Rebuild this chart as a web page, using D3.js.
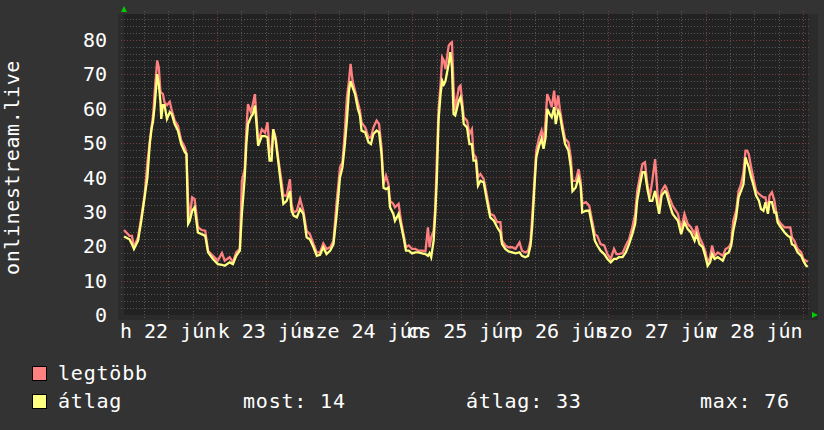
<html>
<head>
<script src="https://d3js.org/d3.v7.min.js"></script>
<style>
    body { margin: 0; background: #333; }
    text { font-family: "DejaVu Sans Mono", monospace; fill: #fff; font-size: 20px; }
</style>
</head>
<body>
<svg id="chartArea" width="824" height="430"></svg>
<script>
// hours since 22 jún 00:00
const hours = [1.15, 2.5, 3.1, 3.6, 4.6, 5.4, 6.2, 6.9, 7.5, 7.9, 8.3, 8.7, 9.3, 9.7, 10.1, 10.3, 10.7, 11.1, 11.7, 12.4,
    12.9, 13.6, 14.4, 15.2, 16.1, 16.5, 16.9, 17.3, 17.9, 18.5, 19.3, 20.2, 21.1, 21.8, 23.0, 24.2, 25.2, 25.9, 27.1, 27.9,
    28.7, 29.6, 30.1, 30.8, 31.2, 31.6, 32.3, 32.8, 33.3, 33.7, 34.1, 35.0, 35.8, 36.4, 36.9, 37.4, 37.8, 38.4, 39.1, 39.7,
    40.3, 41.1, 41.9, 42.3, 42.8, 43.6, 44.4, 45.2, 46.0, 46.8, 47.7, 48.5, 49.3, 50.1, 50.9, 51.8, 52.6, 53.4, 54.2, 54.8,
    55.4, 55.9, 56.4, 56.8, 57.3, 57.9, 58.6, 59.1, 59.5, 60.4, 61.2, 61.8, 62.4, 63.2, 63.8, 64.4, 64.9, 65.5, 66.1, 66.5,
    67.3, 67.7, 68.6, 69.3, 69.9, 70.4, 71.1, 71.9, 72.7, 73.5, 74.4, 75.2, 75.8, 76.2, 76.6, 77.2, 77.6, 78.0, 78.4, 78.9,
    79.3, 79.7, 80.1, 80.5, 80.9, 81.3, 81.7, 82.1, 82.5, 83.0, 83.4, 83.8, 84.2, 84.6, 85.4, 86.0, 86.6, 87.0, 87.6, 88.1,
    88.7, 89.5, 90.3, 91.1, 92.0, 92.8, 93.6, 94.0, 94.8, 95.6, 96.5, 97.3, 98.3, 98.9, 99.7, 100.4, 101.0, 101.4, 101.9, 102.4,
    103.1, 103.7, 104.2, 104.7, 105.1, 105.7, 106.2, 106.8, 107.2, 107.8, 108.2, 108.8, 109.5, 110.3, 110.9, 111.3, 112.1, 112.8, 113.3, 113.7,
    114.6, 115.4, 116.2, 116.8, 117.4, 118.2, 119.1, 119.9, 120.7, 121.5, 122.1, 122.7, 123.6, 124.4, 125.2, 126.0, 126.7, 127.2, 127.9, 128.5,
    129.1, 129.7, 130.3, 130.9, 131.6, 132.2, 132.6, 133.2, 134.0, 134.3, 135.1, 135.9, 137.2, 138.0, 138.8, 139.6, 140.4, 141.3, 141.8, 142.5,
    143.3, 144.0, 144.5, 145.1, 145.6, 146.2, 147.0, 147.6, 148.2, 148.9, 149.7, 150.3, 150.8, 151.5, 152.1, 152.7, 153.3, 153.8, 154.2, 154.6,
    155.2, 155.7, 156.4, 157.1, 157.6, 158.2, 158.7, 159.3, 159.7, 160.3, 160.9, 161.3, 161.7, 162.5, 163.4, 164.2, 164.8, 165.2, 165.8, 166.6,
    167.5, 168.0, 168.7, 169.1];

const maxVals = [24.7, 23, 23, 19.7, 22.6, 28.4, 34.7, 44.4, 50.7, 54.5, 58, 65, 74, 72, 65, 64.7, 64.2, 61.8, 61, 62,
    59.4, 56.5, 55, 50.7, 48.7, 46.8, 33.2, 28.4, 34.2, 33.7, 25.5, 24.7, 24.5, 18.7, 17.2, 15.8, 18, 15.8, 16.8, 15.3,
    18.2, 19.2, 39, 42.4, 53.6, 61.3, 59, 61.3, 64.2, 57.5, 50.2, 54, 53, 56, 47.8, 47.3, 54, 51.6, 44.9, 40,
    34.7, 34.7, 39.5, 32.3, 29.8, 30.3, 33.7, 30.3, 24.5, 23.5, 20.6, 18.2, 18.2, 20.8, 19.2, 19.7, 21.6, 33.2, 42.9, 44.4,
    53.6, 63.3, 68, 73, 68, 65.2, 61.8, 59.4, 56, 54.5, 51.6, 51.6, 54.5, 56.5, 55.5, 48.7, 38, 40.5, 38, 33.2,
    32.3, 31.3, 32.3, 26.5, 23, 19.7, 20.2, 19.2, 19.2, 18.7, 18.7, 18.5, 25.5, 19.7, 22.6, 24.5, 31.3, 45.8, 59.4, 67,
    74.9, 74, 71.5, 74.9, 78.3, 79, 79.3, 66.2, 59.4, 63.3, 66.2, 66.7, 62.3, 57.5, 56.5, 52.6, 54, 46.8, 45.8, 40,
    41, 39.5, 34.7, 29.4, 28.9, 27, 27, 21.6, 20.2, 19.7, 19.7, 19.2, 21.1, 18.7, 18.2, 18.7, 21.6, 28.4, 38, 47.8,
    51.6, 53.6, 50.2, 56.5, 64.2, 62.3, 60.4, 65.2, 59.4, 63.8, 59.9, 55.5, 51.2, 50.2, 45.8, 39, 39, 42.4, 39, 32.3,
    32.8, 31.8, 27, 23.5, 23, 20.6, 20.2, 17.7, 16.3, 19.2, 17.7, 17.7, 18, 20.2, 22, 25.5, 29.4, 36.1, 40.5, 43.9,
    44.4, 38, 34.2, 39, 45.3, 35.2, 31.3, 36.1, 37.6, 37.1, 34.2, 31.8, 29.4, 25, 29.4, 26.5, 25.5, 23.5, 25.9, 22.6,
    20.6, 18.2, 15.3, 16.8, 20.2, 17.2, 18.2, 17.7, 17.2, 19.2, 19.7, 21.1, 27.4, 30.3, 36.1, 38, 41.5, 47.8, 47.8, 46.8,
    42.9, 40, 36.1, 35.2, 34.7, 34.2, 34.2, 30.3, 34.7, 35.7, 33.2, 30.3, 27.9, 26.5, 25.5, 25.5, 25.5, 22.6, 21.6, 19.2,
    18.2, 16.3, 15.8, 15.5];

const avgVals = [22.8, 22, 20.6, 19.2, 21.6, 27.4, 34.2, 40, 50, 54, 56.5, 61, 70, 67, 62, 57, 61, 61, 57, 59,
    58.4, 55.5, 53.6, 49.7, 47.3, 46.8, 26.5, 27.4, 30.3, 31.3, 24, 23.5, 23, 18.2, 16.3, 14.8, 14.6, 14.3, 15.3, 14.8,
    17.2, 18.7, 29.4, 40, 49.7, 55.5, 57.5, 58.4, 60.9, 55.5, 49.2, 52, 52, 51.6, 44.9, 44.9, 54, 50.7, 43.9, 38,
    32.3, 33.2, 36, 30.3, 28.9, 28.4, 30.8, 29.4, 22.6, 22, 19.7, 17.2, 17.5, 19.7, 17.7, 18.7, 20.6, 29.4, 40, 42.9,
    49.7, 56.5, 65.2, 68, 66.2, 64.2, 59.9, 58, 53.6, 53.1, 50.2, 49.7, 52.6, 53.6, 53.1, 46.8, 37, 36.6, 37, 31.3,
    29.4, 27.4, 29.4, 25.5, 22, 18.7, 18.7, 17.9, 18.2, 18.2, 17.9, 17.7, 17.2, 18, 16.8, 21.6, 29.4, 40, 56.5, 64.2,
    68.1, 67, 68, 70.5, 73, 76.4, 72, 58.4, 58, 60.4, 62.3, 63.3, 60.4, 55.5, 54.5, 49.7, 49.7, 44.9, 44.9, 37.6,
    39, 38.5, 33.2, 28.4, 27.4, 25.5, 24, 20.6, 19.2, 18.5, 18.2, 17.9, 18.2, 17.2, 16.8, 17.2, 20.2, 25.5, 36, 45.8,
    49.2, 51.2, 48.3, 51.6, 59.9, 58.4, 57.5, 60.4, 55.5, 59.4, 58.4, 54, 49.7, 47.8, 42.9, 36, 37.1, 40, 37.6, 29.8,
    30.3, 30.3, 25.5, 21.6, 20.2, 18.7, 17.7, 16.3, 15.3, 16.3, 16.3, 16.8, 16.8, 18.2, 20.6, 23.5, 26.5, 33.2, 38, 41.5,
    41.5, 36.6, 33.2, 33.2, 36.1, 31.8, 29.4, 34.7, 36, 35.7, 32.3, 29.4, 27.4, 23.5, 27, 25, 24, 21.6, 23.5, 20.6,
    19.7, 16.8, 14.3, 15.3, 17.7, 16.3, 16.8, 16.3, 15.8, 17.7, 18.2, 20.2, 24.5, 28.4, 34.2, 36.1, 38, 45.8, 44.4, 43,
    40, 38, 34.7, 33.2, 30.8, 30.3, 32.8, 29.4, 32.8, 32.8, 29.8, 29.8, 26.9, 25.5, 24, 23, 22.6, 20.6, 20.2, 18.2,
    17.2, 15.8, 14.3, 14];

const yTicks = [0, 10, 20, 30, 40, 50, 60, 70, 80];
const dayLabels = ["h 22 jún", "k 23 jún", "sze 24 jún", "cs 25 jún", "p 26 jún", "szo 27 jún", "v 28 jún"];
const seriesNames = ["legtöbb", "átlag"];
const seriesColors = ["#ff8080", "#ffff80"];
const statLabels = ["most: 14", "átlag: 33", "max: 76"];
const yTitle = "onlinestream.live";

const svg = d3.select("#chartArea");
const plot = { left: 124, right: 808, top: 14, bottom: 315 };

const day0 = new Date(2015, 5, 22);
const toDate = h => new Date(day0.getTime() + h * 3600e3);

const x = d3.scaleTime()
    .domain([toDate(1.15), toDate(169.15)])
    .range([plot.left, plot.right]);
const y = d3.scaleLinear()
    .domain([0, 87.5])
    .range([plot.bottom, plot.top]);

// frame + canvas
svg.append("rect")
    .attr("x", plot.left - 6).attr("y", plot.top)
    .attr("width", plot.right - plot.left + 16).attr("height", plot.bottom - plot.top + 5)
    .attr("fill", "#2b2b2b");
svg.append("rect")
    .attr("x", plot.left).attr("y", plot.top)
    .attr("width", plot.right - plot.left).attr("height", plot.bottom - plot.top)
    .attr("fill", "#222");

const px = v => Math.round(v) + 0.5;

// horizontal grid, every 2
const gridVals = d3.range(2, 88, 2);
svg.append("g").selectAll("line")
    .data(gridVals)
    .join("line")
    .attr("x1", plot.left - 3).attr("x2", plot.right + 3)
    .attr("y1", d => px(y(d))).attr("y2", d => px(y(d)))
    .attr("stroke", d => d % 10 === 0 ? "#7a3c3c" : "#555")
    .attr("stroke-dasharray", "1,2");

// vertical grid, every 6 hours, red at midnight
const vTicks = x.ticks(d3.timeHour.every(6));
svg.append("g").selectAll("line")
    .data(vTicks)
    .join("line")
    .attr("x1", d => px(x(d))).attr("x2", d => px(x(d)))
    .attr("y1", plot.top - 3).attr("y2", plot.bottom + 3)
    .attr("stroke", d => d.getHours() === 0 ? "#7a3c3c" : "#555")
    .attr("stroke-dasharray", "1,2");

// lines
const series = [maxVals, avgVals];
const line = d3.line()
    .x((d, i) => x(toDate(hours[i])))
    .y(d => y(d));
svg.append("g").selectAll("path")
    .data(series)
    .join("path")
    .attr("d", d => line(d))
    .attr("fill", "none")
    .attr("stroke", (d, i) => seriesColors[i])
    .attr("stroke-width", 2.3)
    .attr("stroke-linejoin", "miter");

// arrows
svg.append("path")
    .attr("d", `M${plot.left - 3},12 L${plot.left + 3},12 L${plot.left},6 Z`)
    .attr("fill", "#00cc00");
svg.append("path")
    .attr("d", `M${plot.right + 4},${plot.bottom - 3} L${plot.right + 4},${plot.bottom + 3} L${plot.right + 10},${plot.bottom} Z`)
    .attr("fill", "#00cc00");

// y labels
svg.append("g").selectAll("text")
    .data(yTicks)
    .join("text")
    .attr("x", 107)
    .attr("y", d => y(d))
    .attr("dy", "0.36em")
    .attr("text-anchor", "end")
    .text(d => d);

// x labels, centred at noon (they overlap in the original too)
svg.append("g").selectAll("text")
    .data(dayLabels)
    .join("text")
    .attr("x", (d, i) => x(toDate(i * 24 + 12)))
    .attr("y", 338)
    .attr("text-anchor", "middle")
    .text(d => d);

// y title
svg.append("text")
    .attr("transform", `translate(19,${(plot.top + plot.bottom) / 2 + 3}) rotate(-90)`)
    .attr("text-anchor", "middle")
    .style("letter-spacing", "0.6px")
    .text(yTitle);

// legend
const legend = svg.append("g");
legend.selectAll("rect")
    .data(seriesNames)
    .join("rect")
    .attr("x", 32.5).attr("y", (d, i) => 366.5 + i * 28)
    .attr("width", 14).attr("height", 14)
    .attr("fill", (d, i) => seriesColors[i])
    .attr("stroke", "#000");
legend.selectAll("text.name")
    .data(seriesNames)
    .join("text")
    .attr("class", "name")
    .attr("x", 58).attr("y", (d, i) => 380 + i * 28)
    .style("letter-spacing", "0.8px")
    .text(d => d);
legend.selectAll("text.stat")
    .data(statLabels)
    .join("text")
    .attr("class", "stat")
    .attr("x", (d, i) => [243, 466, 700][i]).attr("y", 408)
    .style("letter-spacing", "0.8px")
    .text(d => d);
</script>
</body>
</html>
